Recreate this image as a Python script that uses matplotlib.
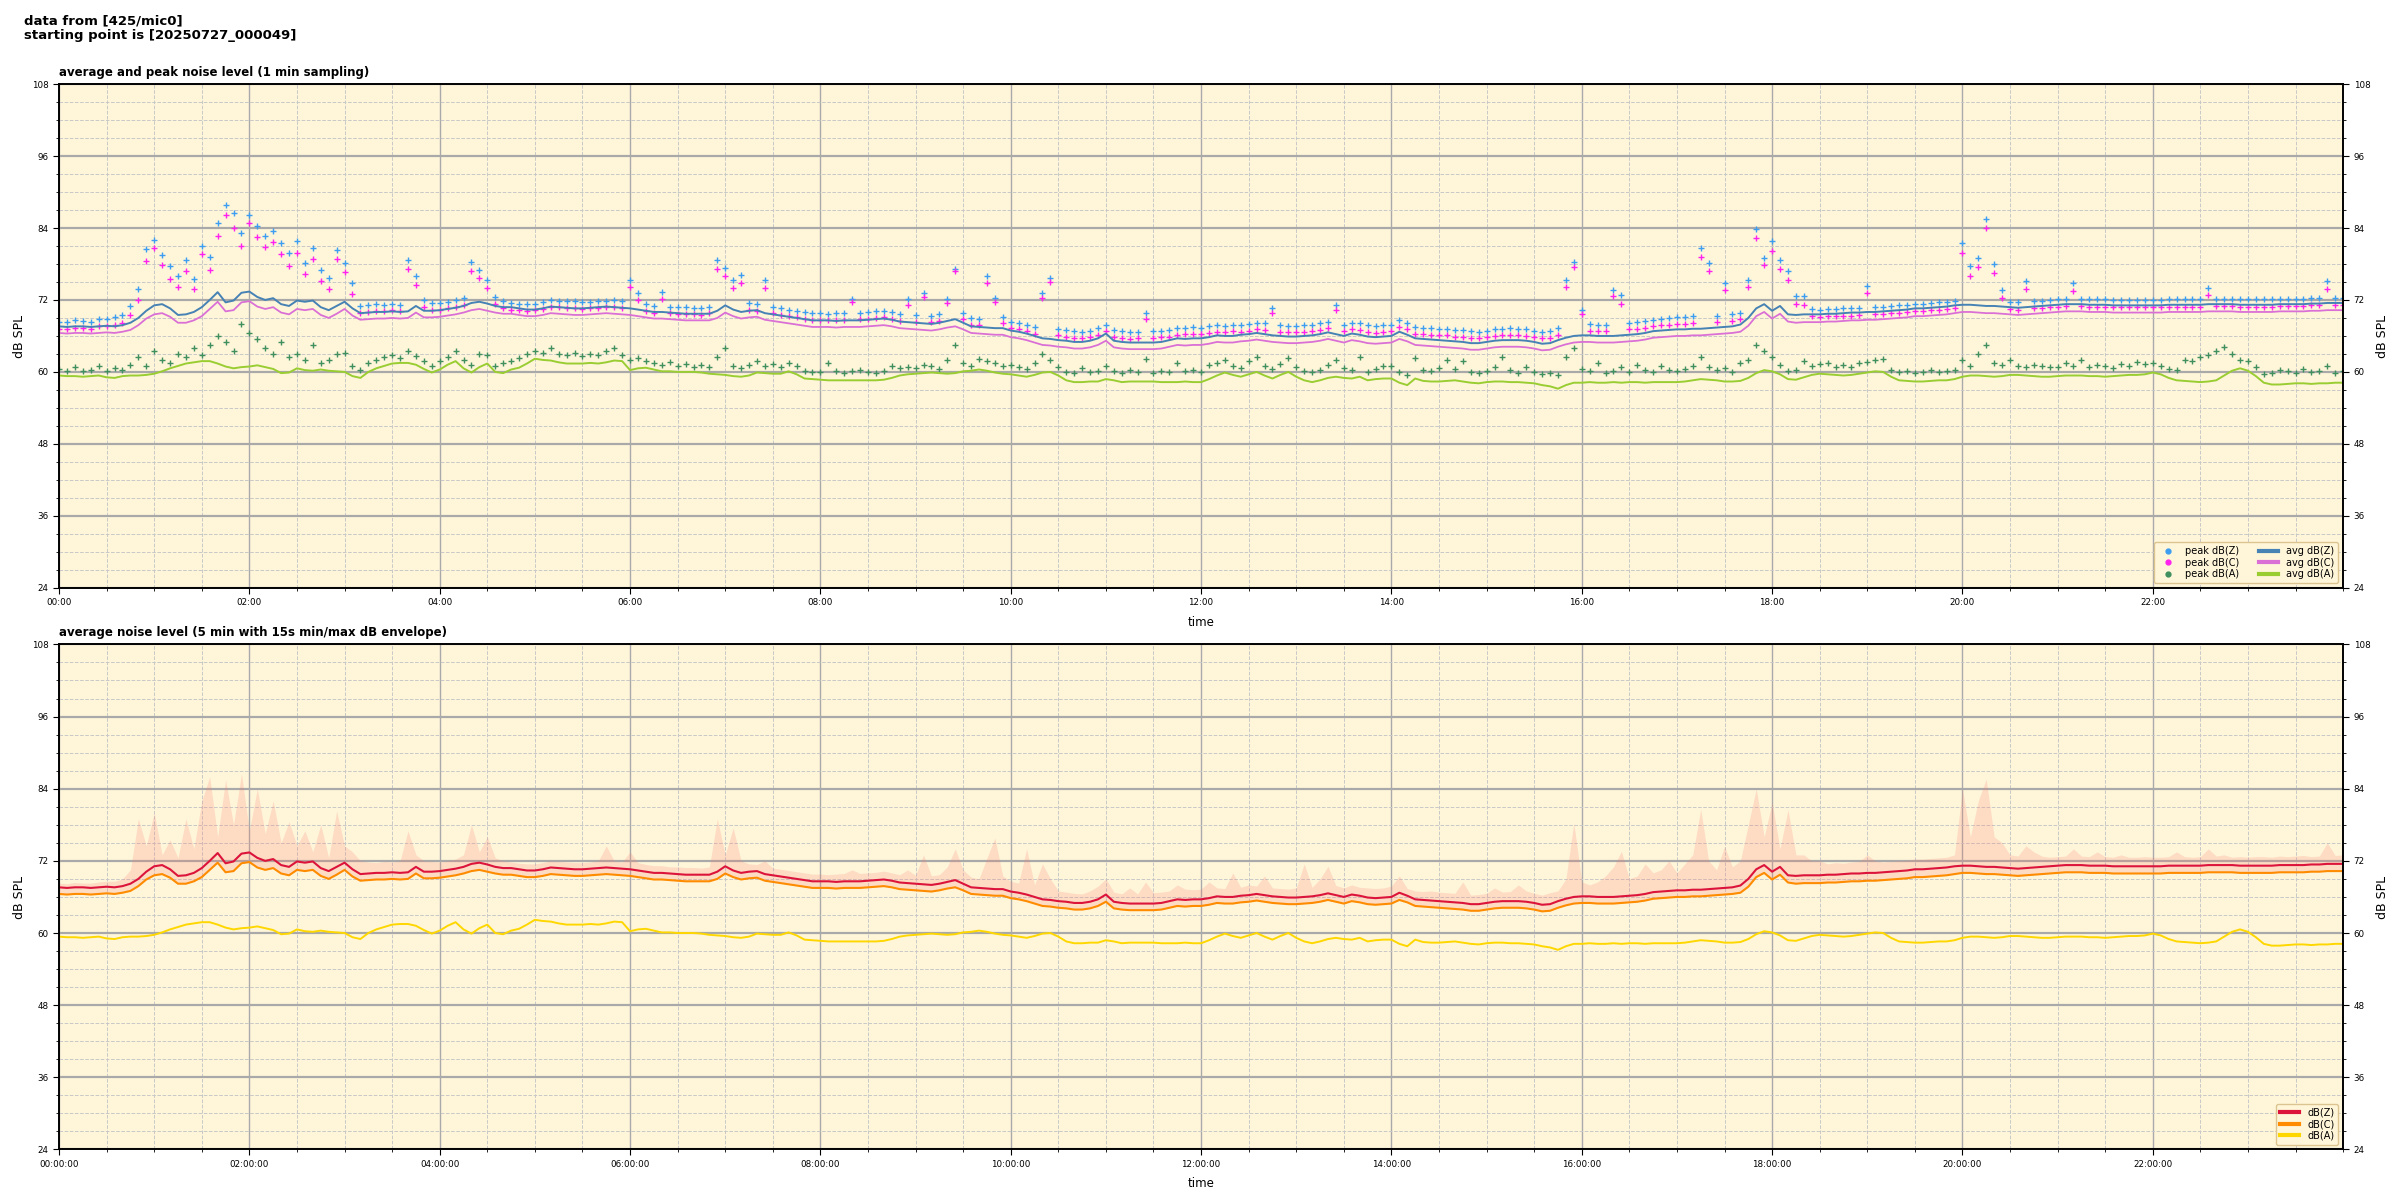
import numpy as np
import matplotlib
matplotlib.use("Agg")
import matplotlib.pyplot as plt
from matplotlib.ticker import FixedLocator, MultipleLocator
from matplotlib.lines import Line2D

plt.rcParams['font.family'] = ['DejaVu Sans']

# ---------------- data (5-minute steps, 00:00 .. 24:00) ----------------
AVG_Z = [
    67.6, 67.5, 67.6, 67.6, 67.5, 67.6, 67.7, 67.6, 67.8, 68.2, 69.0, 70.2,
    71.1, 71.3, 70.6, 69.5, 69.6, 70.0, 70.8, 72.0, 73.3, 71.6, 71.9, 73.2,
    73.4, 72.5, 72.0, 72.3, 71.3, 71.0, 71.9, 71.7, 71.9, 70.8, 70.3, 71.0,
    71.7, 70.6, 69.8, 69.9, 70.0, 70.0, 70.1, 70.0, 70.1, 71.0, 70.2, 70.2,
    70.3, 70.5, 70.7, 71.0, 71.5, 71.7, 71.4, 71.0, 70.8, 70.8, 70.6, 70.4,
    70.4, 70.6, 70.9, 70.8, 70.7, 70.6, 70.6, 70.7, 70.8, 70.9, 70.8, 70.7,
    70.6, 70.4, 70.2, 70.0, 70.0, 69.9, 69.8, 69.7, 69.7, 69.7, 69.7, 70.2,
    71.1, 70.4, 70.0, 70.2, 70.3, 69.8, 69.6, 69.4, 69.2, 69.0, 68.8, 68.6,
    68.6, 68.6, 68.5, 68.6, 68.6, 68.6, 68.7, 68.8, 68.9, 68.7, 68.4, 68.3,
    68.2, 68.1, 68.0, 68.2, 68.5, 68.8, 68.2, 67.6, 67.5, 67.4, 67.3, 67.3,
    66.9, 66.7, 66.4, 66.0, 65.6, 65.5, 65.3, 65.2, 65.0, 65.0, 65.2, 65.6,
    66.4, 65.2, 65.0, 64.9, 64.9, 64.9, 64.9, 65.0, 65.3, 65.6, 65.5, 65.6,
    65.6, 65.8, 66.1, 66.0, 66.0, 66.2, 66.3, 66.5, 66.3, 66.1, 66.0, 65.9,
    65.9, 66.0, 66.1, 66.3, 66.6, 66.3, 66.0, 66.4, 66.2, 65.9, 65.8, 65.9,
    66.0, 66.7, 66.2, 65.6, 65.5, 65.4, 65.3, 65.2, 65.1, 65.0, 64.8, 64.8,
    65.0, 65.2, 65.3, 65.3, 65.3, 65.2, 65.0, 64.7, 64.8, 65.3, 65.7, 66.0,
    66.1, 66.1, 66.0, 66.0, 66.0, 66.1, 66.2, 66.3, 66.5, 66.8, 66.9, 67.0,
    67.1, 67.1, 67.2, 67.2, 67.3, 67.4, 67.5, 67.6, 67.9, 69.0, 70.6, 71.3,
    70.2, 71.0, 69.6, 69.5, 69.6, 69.6, 69.6, 69.7, 69.7, 69.8, 69.9, 69.9,
    70.0, 70.0, 70.1, 70.2, 70.3, 70.4, 70.6, 70.6, 70.7, 70.8, 70.9, 71.1,
    71.2, 71.2, 71.1, 71.0, 71.0, 70.9, 70.8, 70.7, 70.8, 70.9, 71.0, 71.1,
    71.2, 71.3, 71.3, 71.3, 71.2, 71.2, 71.2, 71.1, 71.1, 71.1, 71.1, 71.1,
    71.1, 71.1, 71.2, 71.2, 71.2, 71.2, 71.2, 71.3, 71.3, 71.3, 71.3, 71.2,
    71.2, 71.2, 71.2, 71.2, 71.3, 71.3, 71.3, 71.3, 71.4, 71.4, 71.5, 71.5, 71.5,
]

AVG_C = [
    66.5, 66.4, 66.5, 66.5, 66.4, 66.5, 66.6, 66.5, 66.7, 67.0, 67.8, 68.9,
    69.6, 69.8, 69.2, 68.2, 68.2, 68.6, 69.3, 70.5, 71.7, 70.1, 70.3, 71.6,
    71.8, 70.9, 70.5, 70.8, 69.9, 69.6, 70.5, 70.3, 70.5, 69.5, 69.0, 69.7,
    70.5, 69.4, 68.7, 68.8, 68.9, 68.9, 69.0, 68.9, 69.0, 69.9, 69.1, 69.1,
    69.2, 69.4, 69.6, 69.9, 70.3, 70.5, 70.2, 69.9, 69.7, 69.7, 69.5, 69.3,
    69.3, 69.5, 69.8, 69.7, 69.6, 69.5, 69.5, 69.6, 69.7, 69.8, 69.7, 69.6,
    69.5, 69.3, 69.1, 68.9, 68.9, 68.8, 68.7, 68.6, 68.6, 68.6, 68.6, 69.0,
    69.9, 69.3, 68.9, 69.1, 69.2, 68.7, 68.5, 68.3, 68.1, 67.9, 67.7, 67.5,
    67.5, 67.5, 67.4, 67.5, 67.5, 67.5, 67.6, 67.7, 67.8, 67.6, 67.3, 67.2,
    67.1, 67.0, 66.9, 67.1, 67.4, 67.6, 67.1, 66.5, 66.4, 66.3, 66.2, 66.2,
    65.8, 65.6, 65.3, 64.9, 64.5, 64.4, 64.2, 64.1, 63.9, 63.9, 64.1, 64.5,
    65.2, 64.1, 63.9, 63.8, 63.8, 63.8, 63.8, 63.9, 64.2, 64.5, 64.4, 64.5,
    64.5, 64.7, 65.0, 64.9, 64.9, 65.1, 65.2, 65.4, 65.2, 65.0, 64.9, 64.8,
    64.8, 64.9, 65.0, 65.2, 65.5, 65.2, 64.9, 65.3, 65.1, 64.8, 64.7, 64.8,
    64.9, 65.5, 65.1, 64.5, 64.4, 64.3, 64.2, 64.1, 64.0, 63.9, 63.7, 63.7,
    63.9, 64.1, 64.2, 64.2, 64.2, 64.1, 63.9, 63.6, 63.7, 64.2, 64.6, 64.9,
    65.0, 65.0, 64.9, 64.9, 64.9, 65.0, 65.1, 65.2, 65.4, 65.7, 65.8, 65.9,
    66.0, 66.0, 66.1, 66.1, 66.2, 66.3, 66.4, 66.5, 66.7, 67.7, 69.3, 70.0,
    68.9, 69.7, 68.4, 68.2, 68.3, 68.3, 68.3, 68.4, 68.4, 68.5, 68.6, 68.6,
    68.7, 68.7, 68.8, 68.9, 69.0, 69.1, 69.3, 69.3, 69.4, 69.5, 69.6, 69.8,
    70.0, 70.0, 69.9, 69.8, 69.8, 69.7, 69.6, 69.5, 69.6, 69.7, 69.8, 69.9,
    70.0, 70.1, 70.1, 70.1, 70.0, 70.0, 70.0, 69.9, 69.9, 69.9, 69.9, 69.9,
    69.9, 69.9, 70.0, 70.0, 70.0, 70.0, 70.0, 70.1, 70.1, 70.1, 70.1, 70.0,
    70.0, 70.0, 70.0, 70.0, 70.1, 70.1, 70.1, 70.1, 70.2, 70.2, 70.3, 70.3, 70.3,
]

AVG_A = [
    59.4, 59.3, 59.3, 59.2, 59.3, 59.4, 59.1, 59.0, 59.3, 59.4, 59.4, 59.5,
    59.7, 60.1, 60.6, 61.0, 61.4, 61.6, 61.8, 61.8, 61.4, 60.9, 60.6, 60.8,
    60.9, 61.1, 60.8, 60.5, 59.8, 59.9, 60.6, 60.3, 60.2, 60.4, 60.2, 60.1,
    60.0, 59.3, 59.0, 60.0, 60.6, 61.0, 61.4, 61.5, 61.5, 61.2, 60.5, 59.9,
    60.4, 61.2, 61.8, 60.6, 59.9, 60.8, 61.4, 60.0, 59.8, 60.4, 60.7, 61.4,
    62.2, 62.0, 61.9, 61.6, 61.4, 61.4, 61.4, 61.5, 61.4, 61.6, 61.9, 61.8,
    60.3, 60.6, 60.7, 60.4, 60.1, 60.1, 60.0, 60.0, 60.0, 59.9, 59.7, 59.6,
    59.5, 59.3, 59.2, 59.4, 59.9, 59.8, 59.7, 59.7, 60.1, 59.6, 58.9, 58.8,
    58.7, 58.6, 58.6, 58.6, 58.6, 58.6, 58.6, 58.6, 58.7, 59.0, 59.4, 59.6,
    59.7, 59.8, 59.9, 59.8, 59.7, 59.8, 60.1, 60.2, 60.4, 60.2, 59.9, 59.7,
    59.6, 59.4, 59.2, 59.5, 59.9, 60.0, 59.4, 58.6, 58.3, 58.3, 58.4, 58.4,
    58.8, 58.6, 58.3, 58.4, 58.4, 58.4, 58.4, 58.3, 58.3, 58.3, 58.4, 58.3,
    58.3, 58.8, 59.4, 59.9, 59.5, 59.2, 59.6, 60.0, 59.4, 58.9, 59.5, 60.0,
    59.2, 58.6, 58.3, 58.6, 59.0, 59.2, 59.0, 58.9, 59.2, 58.6, 58.8, 58.9,
    58.9, 58.2, 57.8, 58.9, 58.5, 58.4, 58.4, 58.5, 58.6, 58.4, 58.2, 58.1,
    58.3, 58.4, 58.4, 58.3, 58.3, 58.2, 58.1, 57.8, 57.6, 57.2, 57.8, 58.2,
    58.2, 58.3, 58.2, 58.2, 58.3, 58.2, 58.3, 58.3, 58.2, 58.3, 58.3, 58.3,
    58.3, 58.4, 58.6, 58.8, 58.7, 58.6, 58.4, 58.4, 58.5, 59.0, 59.8, 60.3,
    60.1, 59.6, 58.8, 58.7, 59.1, 59.5, 59.7, 59.6, 59.5, 59.4, 59.5, 59.7,
    59.9, 60.1, 60.0, 59.2, 58.6, 58.5, 58.4, 58.4, 58.5, 58.6, 58.6, 58.8,
    59.2, 59.4, 59.4, 59.3, 59.2, 59.3, 59.5, 59.5, 59.4, 59.3, 59.2, 59.2,
    59.3, 59.4, 59.4, 59.4, 59.3, 59.3, 59.2, 59.3, 59.4, 59.5, 59.5, 59.6,
    59.9, 59.6, 59.0, 58.6, 58.5, 58.4, 58.3, 58.4, 58.6, 59.4, 60.2, 60.6,
    60.2, 59.3, 58.2, 57.9, 57.9, 58.0, 58.1, 58.1, 58.0, 58.1, 58.1, 58.2, 58.2,
]

PEAK_Z = [
    68.4, 68.3, 68.6, 68.5, 68.4, 68.8, 68.9, 69.1, 69.5, 71.0, 73.8, 80.5,
    82.0, 79.5, 77.6, 76.0, 78.7, 75.5, 81.0, 79.2, 84.8, 87.9, 86.5, 83.2,
    86.2, 84.3, 82.6, 83.5, 81.5, 79.8, 81.8, 78.2, 80.6, 77.0, 75.6, 80.4,
    78.2, 74.8, 71.0, 71.1, 71.3, 71.2, 71.4, 71.2, 78.6, 76.0, 72.0, 71.5,
    71.5, 71.7, 72.0, 72.4, 78.4, 77.0, 75.4, 72.5, 71.8, 71.5, 71.4, 71.3,
    71.4, 71.6, 72.0, 71.9, 71.8, 71.8, 71.6, 71.7, 71.8, 71.9, 72.0, 71.8,
    75.4, 73.2, 71.3, 71.0, 73.4, 70.9, 70.8, 70.8, 70.7, 70.6, 70.9, 78.7,
    77.4, 75.4, 76.2, 71.5, 71.3, 75.4, 70.9, 70.6, 70.4, 70.2, 70.0, 69.8,
    69.8, 69.7, 69.8, 69.8, 72.2, 69.9, 70.0, 70.1, 70.2, 70.0, 69.6, 72.2,
    69.5, 73.2, 69.4, 69.6, 72.2, 77.2, 69.9, 69.0, 68.9, 76.0, 72.4, 69.2,
    68.4, 68.2, 67.9, 67.5, 73.1, 75.6, 67.2, 67.0, 66.8, 66.7, 66.9, 67.3,
    67.8, 67.0, 66.8, 66.6, 66.7, 69.8, 66.8, 66.9, 67.0, 67.3, 67.4, 67.5,
    67.4, 67.6, 67.8, 67.7, 67.9, 67.8, 68.0, 68.2, 68.1, 70.7, 67.8, 67.7,
    67.7, 67.8, 67.9, 68.1, 68.4, 71.1, 67.9, 68.2, 68.1, 67.8, 67.6, 67.8,
    67.9, 68.6, 68.2, 67.5, 67.4, 67.3, 67.2, 67.2, 67.0, 67.0, 66.8, 66.7,
    66.9, 67.1, 67.2, 67.3, 67.2, 67.1, 66.9, 66.7, 66.8, 67.3, 75.4, 78.4,
    70.4, 68.0, 67.9, 67.9, 73.7, 72.9, 68.2, 68.3, 68.5, 68.7, 68.9, 69.0,
    69.1, 69.1, 69.3, 80.7, 78.2, 69.4, 74.8, 69.6, 69.9, 75.4, 83.8, 79.0,
    81.8, 78.7, 76.8, 72.6, 72.6, 70.5, 70.4, 70.5, 70.5, 70.6, 70.6, 70.7,
    74.4, 70.8, 70.9, 71.0, 71.1, 71.2, 71.4, 71.4, 71.5, 71.6, 71.7, 71.9,
    81.5, 77.6, 79.0, 85.5, 78.0, 73.7, 71.7, 71.6, 75.1, 71.8, 71.9, 72.0,
    72.1, 72.2, 74.8, 72.2, 72.1, 72.1, 72.1, 72.0, 72.0, 72.0, 72.0, 72.0,
    72.0, 72.0, 72.1, 72.1, 72.1, 72.1, 72.1, 74.0, 72.2, 72.2, 72.2, 72.1,
    72.1, 72.1, 72.1, 72.1, 72.2, 72.2, 72.2, 72.2, 72.3, 72.3, 75.1, 72.4, 72.4,
]

PEAK_C = [
    67.2, 67.1, 67.4, 67.3, 67.2, 67.6, 67.7, 67.9, 68.2, 69.5, 72.0, 78.5,
    80.6, 77.8, 75.5, 74.2, 76.9, 73.8, 79.6, 77.0, 82.6, 86.2, 84.0, 81.0,
    84.8, 82.5, 80.8, 81.7, 79.6, 77.7, 79.8, 76.4, 78.8, 75.2, 73.8, 78.8,
    76.6, 73.0, 69.9, 70.0, 70.2, 70.1, 70.3, 70.1, 77.2, 74.5, 70.9, 70.4,
    70.4, 70.6, 70.9, 71.2, 76.8, 75.6, 74.0, 71.3, 70.7, 70.4, 70.3, 70.2,
    70.3, 70.5, 70.9, 70.8, 70.7, 70.7, 70.5, 70.6, 70.7, 70.8, 70.9, 70.7,
    74.2, 72.0, 70.2, 69.9, 72.2, 69.8, 69.7, 69.7, 69.6, 69.5, 69.8, 77.2,
    76.0, 74.0, 74.8, 70.4, 70.2, 74.0, 69.8, 69.5, 69.3, 69.1, 68.9, 68.7,
    68.7, 68.6, 68.7, 68.7, 71.6, 68.8, 68.9, 69.0, 69.1, 68.9, 68.5, 71.2,
    68.4, 72.5, 68.3, 68.5, 71.5, 76.9, 68.8, 67.9, 67.8, 74.8, 71.6, 68.1,
    67.3, 67.1, 66.8, 66.4, 72.4, 75.0, 66.1, 65.9, 65.7, 65.6, 65.8, 66.2,
    66.8, 65.9, 65.7, 65.5, 65.6, 68.9, 65.7, 65.8, 65.9, 66.2, 66.3, 66.4,
    66.3, 66.5, 66.7, 66.6, 66.8, 66.7, 66.9, 67.1, 67.0, 69.9, 66.7, 66.6,
    66.6, 66.7, 66.8, 67.0, 67.3, 70.3, 66.8, 67.1, 67.0, 66.7, 66.5, 66.7,
    66.8, 67.5, 67.1, 66.4, 66.3, 66.2, 66.1, 66.1, 65.9, 65.9, 65.7, 65.6,
    65.8, 66.0, 66.1, 66.2, 66.1, 66.0, 65.8, 65.6, 65.7, 66.2, 74.2, 77.5,
    69.6, 66.9, 66.8, 66.8, 72.6, 71.4, 67.1, 67.2, 67.4, 67.6, 67.8, 67.9,
    68.0, 68.0, 68.2, 79.2, 76.8, 68.3, 73.6, 68.5, 68.8, 74.2, 82.4, 77.8,
    80.2, 77.2, 75.4, 71.4, 71.2, 69.3, 69.2, 69.3, 69.3, 69.4, 69.4, 69.5,
    73.2, 69.6, 69.7, 69.8, 69.9, 70.0, 70.2, 70.2, 70.3, 70.4, 70.5, 70.7,
    79.8, 76.0, 77.5, 84.0, 76.5, 72.3, 70.5, 70.4, 73.8, 70.6, 70.7, 70.8,
    70.9, 71.0, 73.5, 71.0, 70.9, 70.9, 70.9, 70.8, 70.8, 70.8, 70.8, 70.8,
    70.8, 70.8, 70.9, 70.9, 70.9, 70.9, 70.9, 72.8, 71.0, 71.0, 71.0, 70.9,
    70.9, 70.9, 70.9, 70.9, 71.0, 71.0, 71.0, 71.0, 71.1, 71.1, 73.9, 71.2, 71.2,
]

PEAK_A = [
    60.5, 60.2, 60.8, 60.1, 60.4, 61.0, 60.2, 60.6, 60.3, 61.2, 62.5, 61.0,
    63.5, 62.0, 61.5, 63.0, 62.5, 64.0, 62.8, 64.5, 66.0, 65.0, 63.5, 68.0,
    66.5, 65.5, 64.0, 63.0, 65.0, 62.5, 63.0, 62.0, 64.5, 61.5, 62.0, 63.0,
    63.2, 61.0, 60.3, 61.5, 62.0, 62.5, 62.8, 62.4, 63.5, 62.6, 61.8, 61.0,
    61.8, 62.5, 63.5, 62.0, 61.2, 63.0, 62.8, 61.0, 61.5, 61.8, 62.4, 63.0,
    63.5, 63.2, 64.0, 63.0, 62.8, 63.2, 62.6, 63.0, 62.8, 63.5, 64.0, 62.9,
    62.0, 62.4, 61.8, 61.5, 61.2, 61.6, 61.0, 61.3, 60.9, 61.2, 60.8, 62.5,
    64.0, 61.0, 60.6, 61.2, 61.8, 61.0, 61.3, 60.8, 61.5, 61.0, 60.2, 60.0,
    60.0, 61.5, 60.2, 59.9, 60.1, 60.3, 60.0, 59.9, 60.2, 61.0, 60.6, 60.8,
    60.6, 61.2, 61.0, 60.5, 62.0, 64.5, 61.5, 61.0, 62.2, 61.8, 61.5, 61.0,
    61.2, 60.8, 60.5, 61.5, 63.0, 62.0, 60.8, 60.0, 59.8, 60.6, 60.0, 60.2,
    61.0, 60.1, 59.8, 60.3, 60.0, 62.2, 59.9, 60.2, 60.0, 61.5, 60.1, 60.4,
    60.0, 61.2, 61.5, 62.0, 61.0, 60.6, 61.8, 62.5, 61.0, 60.5, 61.3, 62.3,
    60.8, 60.2, 60.0, 60.4, 61.2, 62.0, 60.7, 60.4, 62.5, 60.0, 60.5, 61.0,
    61.0, 60.0, 59.5, 62.3, 60.4, 60.2, 60.6, 62.0, 60.5, 61.8, 60.0, 59.8,
    60.2, 60.8, 62.5, 60.4, 59.9, 60.8, 60.0, 59.6, 59.8, 59.5, 62.5, 64.0,
    60.5, 60.2, 61.5, 59.9, 60.1, 60.8, 60.0, 61.2, 60.4, 60.0, 61.0, 60.3,
    60.2, 60.5, 61.0, 62.5, 60.8, 60.4, 60.6, 60.0, 61.5, 62.0, 64.5, 63.5,
    62.5, 61.2, 60.2, 60.4, 61.8, 61.0, 61.3, 61.5, 60.8, 61.2, 60.9, 61.5,
    61.6, 62.0, 62.2, 60.4, 60.0, 60.2, 59.8, 60.0, 60.3, 60.0, 60.2, 60.4,
    62.0, 61.0, 63.0, 64.5, 61.5, 61.2, 62.0, 61.0, 60.9, 61.2, 61.0, 60.8,
    60.9, 61.5, 61.0, 62.0, 60.8, 61.2, 61.0, 60.7, 61.4, 61.0, 61.6, 61.3,
    61.5, 61.0, 60.5, 60.3, 62.0, 61.8, 62.5, 62.8, 63.5, 64.2, 63.0, 62.0,
    61.8, 60.8, 59.6, 59.9, 60.4, 60.1, 59.8, 60.5, 60.0, 60.2, 61.0, 59.9, 60.1,
]

# max of the 15 s envelope (bottom panel)
ENV_MAX = [
    68.3, 68.2, 68.4, 68.3, 68.3, 68.5, 68.6, 68.6, 69.0, 70.5, 79.0, 74.5,
    80.0, 73.0, 75.5, 72.5, 79.0, 74.0, 82.0, 86.0, 76.0, 85.5, 78.0, 86.5,
    77.0, 84.0, 76.5, 82.0, 75.0, 78.5, 74.5, 77.0, 73.5, 78.0, 72.5, 80.3,
    74.5, 73.5, 72.0, 71.8, 71.7, 71.9, 71.8, 72.0, 77.0, 73.0, 72.0, 71.9,
    71.8, 72.0, 72.3, 73.0, 78.0, 73.5, 76.0, 72.5, 72.0, 71.8, 71.6, 71.5,
    71.5, 71.7, 72.0, 71.9, 71.8, 71.7, 71.7, 71.8, 72.0, 74.5, 72.0, 71.8,
    73.5, 71.7, 71.4, 71.2, 71.2, 71.0, 71.0, 70.9, 70.9, 70.8, 71.0, 79.0,
    73.0, 77.5, 72.0, 71.5, 71.4, 72.0, 70.8, 70.6, 70.4, 70.2, 70.0, 69.8,
    69.8, 69.7, 69.8, 69.9, 70.5, 69.9, 70.0, 70.1, 70.3, 70.0, 69.7, 70.5,
    69.6, 73.0, 69.5, 69.7, 71.0, 74.0, 70.5, 69.3, 69.0, 72.5, 75.8, 69.5,
    68.6, 68.3, 74.0, 68.0, 71.5, 69.0, 67.0, 66.8, 66.6, 66.5, 67.0, 67.8,
    69.0, 66.8, 66.5, 67.5, 66.5, 68.5, 66.7, 66.8, 67.0, 68.0, 67.3, 67.2,
    67.3, 68.5, 67.5, 67.4, 70.0, 67.6, 68.0, 67.8, 69.5, 67.5, 67.4, 67.3,
    67.5, 71.5, 67.6, 69.0, 71.1, 67.9, 67.5, 68.0, 67.6, 67.5, 67.4, 67.5,
    67.8, 69.5, 67.4, 67.0, 66.9, 67.0, 66.8, 66.7, 66.6, 68.5, 66.3, 66.4,
    66.6, 67.5, 66.8, 66.9, 68.0, 67.0, 66.6, 66.3, 66.7, 67.0, 69.0, 78.3,
    68.5, 68.0, 68.5, 69.5, 71.0, 73.6, 69.0, 69.5, 71.5, 70.0, 70.5, 72.0,
    70.0, 71.5, 73.0, 80.6, 72.0, 70.5, 74.4, 71.0, 72.0, 78.0, 84.0, 76.0,
    81.7, 74.0, 80.5, 73.0, 73.0, 72.0, 72.0, 71.5, 71.7, 71.6, 71.8, 71.9,
    73.0, 72.0, 71.8, 71.9, 72.0, 72.1, 72.3, 72.3, 72.4, 72.5, 72.6, 73.0,
    84.0, 76.0, 82.0, 85.6, 76.0, 75.0, 73.0, 72.8, 74.5, 73.5, 72.8, 72.6,
    72.7, 72.8, 74.0, 72.8, 72.7, 73.5, 72.7, 72.6, 73.0, 72.6, 72.6, 72.7,
    72.6, 72.6, 72.7, 73.5, 72.7, 72.6, 72.7, 74.0, 72.8, 73.0, 72.6, 72.7,
    72.6, 72.7, 72.7, 72.6, 72.8, 72.7, 72.8, 72.9, 72.7, 72.8, 75.0, 72.9, 73.0,
]

X_MAJOR = list(range(0, 24, 2))          # hours with a label
TOP_LABELS = ["%02d:00" % h for h in X_MAJOR]
BOT_LABELS = ["%02d:00:00" % h for h in X_MAJOR]


def hours(a):
    return np.arange(len(a)) * 5.0 / 60.0


BG = '#fff6da'


def style(ax, labels):
    ax.set_facecolor(BG)
    ax.set_xlim(0, 24)
    ax.set_ylim(24, 108)
    ax.xaxis.set_major_locator(FixedLocator(X_MAJOR))
    ax.xaxis.set_minor_locator(FixedLocator(np.arange(0, 24.01, 0.5)))
    ax.set_xticklabels(labels)
    ax.yaxis.set_major_locator(MultipleLocator(12))
    ax.yaxis.set_minor_locator(MultipleLocator(3))
    ax.xaxis.grid(True, which='major', color='#a9a9a9', lw=1.0, ls='-')
    ax.yaxis.grid(True, which='major', color='#a9a9a9', lw=1.6, ls='-')
    ax.grid(True, which='minor', color='#c8c8c8', lw=0.7, ls='--')
    ax.set_axisbelow(True)
    ax.tick_params(axis='both', which='major', labelsize=6.3, length=4)
    ax.tick_params(axis='both', which='minor', length=2.5)
    for s in ax.spines.values():
        s.set_linewidth(1.2)
    ax.set_ylabel('dB SPL', fontsize=9)
    ax.set_xlabel('time', fontsize=8.5, labelpad=6)
    tw = ax.twinx()
    tw.set_ylim(24, 108)
    tw.yaxis.set_major_locator(MultipleLocator(12))
    tw.yaxis.set_minor_locator(MultipleLocator(3))
    tw.tick_params(axis='y', which='major', labelsize=6.3, length=4)
    tw.tick_params(axis='y', which='minor', length=2.5)
    tw.set_ylabel('dB SPL', fontsize=9)
    for s in tw.spines.values():
        s.set_linewidth(1.2)
    return tw


fig = plt.figure(figsize=(24, 12), dpi=100)
fig.text(0.01, 0.988, "data from [425/mic0]\nstarting point is [20250727_000049]",
         fontsize=9.5, fontweight='bold', va='top', ha='left', linespacing=1.15)

ax1 = fig.add_axes([0.0246, 0.5102, 0.9517, 0.4197])
ax2 = fig.add_axes([0.0246, 0.0421, 0.9517, 0.4209])

# ---------------- top panel ----------------
ax1.plot(hours(PEAK_Z), PEAK_Z, ls='none', marker='+', ms=4, mew=1.0, color='#3d9df0')
ax1.plot(hours(PEAK_C), PEAK_C, ls='none', marker='+', ms=4, mew=1.0, color='#ff22ee')
ax1.plot(hours(PEAK_A), PEAK_A, ls='none', marker='+', ms=4, mew=1.0, color='#3f8f5f')
ax1.plot(hours(AVG_C), AVG_C, color='orchid', lw=1.3)
ax1.plot(hours(AVG_Z), AVG_Z, color='steelblue', lw=1.4)
ax1.plot(hours(AVG_A), AVG_A, color='yellowgreen', lw=1.4)
style(ax1, TOP_LABELS)
ax1.set_title("average and peak noise level (1 min sampling)", loc='left',
              fontsize=8.5, fontweight='bold', pad=6)
h1 = [Line2D([], [], ls='none', marker='o', ms=3.5, color='#3d9df0'),
      Line2D([], [], ls='none', marker='o', ms=3.5, color='#ff22ee'),
      Line2D([], [], ls='none', marker='o', ms=3.5, color='#3f8f5f'),
      Line2D([], [], color='steelblue', lw=3),
      Line2D([], [], color='orchid', lw=3),
      Line2D([], [], color='yellowgreen', lw=3)]
ax1.legend(h1, ['peak dB(Z)', 'peak dB(C)', 'peak dB(A)', 'avg dB(Z)', 'avg dB(C)', 'avg dB(A)'],
           loc='lower right', ncol=2, fontsize=7, frameon=True, facecolor=BG,
           edgecolor='#dcc490', framealpha=1.0, handlelength=2.0,
           borderpad=0.4, labelspacing=0.15, columnspacing=2.0, fancybox=True)

# ---------------- bottom panel ----------------
ax2.fill_between(hours(AVG_C), AVG_C, ENV_MAX, color='salmon', alpha=0.22, lw=0)
ax2.plot(hours(AVG_Z), AVG_Z, color='crimson', lw=1.5, label='dB(Z)')
ax2.plot(hours(AVG_C), AVG_C, color='darkorange', lw=1.5, label='dB(C)')
ax2.plot(hours(AVG_A), AVG_A, color='gold', lw=1.4, label='dB(A)')
style(ax2, BOT_LABELS)
ax2.set_title("average noise level (5 min with 15s min/max dB envelope)", loc='left',
              fontsize=8.5, fontweight='bold', pad=6)
leg2 = ax2.legend(loc='lower right', fontsize=7, frameon=True, facecolor=BG,
                  edgecolor='#dcc490', framealpha=1.0, handlelength=2.0,
                  borderpad=0.4, labelspacing=0.15)
for ln in leg2.get_lines():
    ln.set_linewidth(3)

fig.savefig('out.png', dpi=100)
